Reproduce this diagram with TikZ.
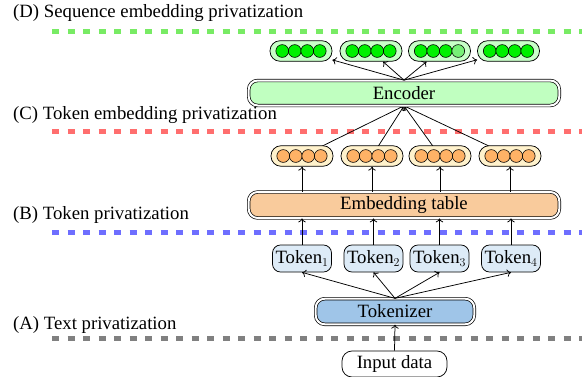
\documentclass[tikz,border=0pt]{standalone}
\usepackage{fontspec}
\setmainfont{Liberation Serif}
\usetikzlibrary{arrows.meta,backgrounds,calc}
\definecolor{encfill}{RGB}{192,255,192}
\definecolor{embfill}{RGB}{249,203,156}
\definecolor{tkzfill}{RGB}{159,197,232}
\definecolor{tokfill}{RGB}{221,235,247}
\definecolor{ovfill}{RGB}{255,242,204}
\definecolor{odot}{RGB}{255,178,102}
\definecolor{gvfill}{RGB}{200,255,200}
\definecolor{gdot}{RGB}{0,240,0}
\definecolor{gdotl}{RGB}{120,240,120}
\definecolor{sepgreen}{RGB}{120,235,100}
\definecolor{sepred}{RGB}{255,110,110}
\definecolor{sepblue}{RGB}{110,110,255}
\definecolor{sepgray}{RGB}{128,128,128}
\begin{document}
\begin{tikzpicture}[x=1pt,y=-1pt,
  font=\fontsize{18.75}{22.5}\selectfont,
  conn/.style={line width=0.75pt, -{To[length=4pt,width=7.5pt]}},
  dbox/.style={draw, double, double distance=2pt, line width=0.7pt, rounded corners=9pt,
    minimum width=310.6pt, minimum height=25pt, inner sep=0pt},
  tok/.style={draw, line width=0.75pt, rounded corners=8pt, fill=tokfill,
    minimum height=27pt, minimum width=59pt, inner sep=1pt},
  vec/.style={draw, line width=0.75pt, rounded corners=10pt,
    minimum width=62pt, minimum height=20.5pt, inner sep=0pt},
  dot/.style={circle, draw, line width=0.6pt, minimum size=12.8pt, inner sep=0pt},
  sep/.style={line width=5pt, dash pattern=on 7pt off 8.5pt},
  lab/.style={anchor=west, inner sep=0pt}]
\useasboundingbox (0,0) rectangle (582,376);

% labels
\node[lab] (labD) at (13,13.5) {(D) Sequence embedding privatization};
\node[lab] (labC) at (13,115.5) {(C) Token embedding privatization};
\node[lab] (labB) at (13,214.5) {(B) Token privatization};
\node[lab] (labA) at (13,324.5) {(A) Text privatization};

% main blocks
\node[dbox, fill=encfill] (enc) at (404,93) {Encoder};
\node[dbox, fill=embfill, minimum height=26pt] (emb) at (404,205) {Embedding table};
\node[dbox, fill=tkzfill, minimum width=158.6pt, minimum height=25.6pt] (tkz) at (395,311.5) {Tokenizer};
\node[draw, line width=0.75pt, rounded corners=10pt, fill=white, minimum width=105pt,
  minimum height=26pt, inner sep=0pt] (inp) at (394.5,364) {Input data};

% tokens
\foreach \i/\xx in {1/302,2/373.5,3/439.5,4/511}
  \node[tok] (t\i) at (\xx,258.5) {Token$_{\i}$};

% orange vectors
\foreach \v/\xx in {1/302,2/372,3/440,4/510}{
  \node[vec, fill=ovfill] (o\v) at (\xx,156) {};
  \foreach \i/\off in {1/-18.75,2/-6.25,3/6.25,4/18.75}
    \node[dot, fill=odot] (o\v c\i) at ($(o\v.center)+(\off,0)$) {};
}

% green vectors
\foreach \v/\xx/\last in {1/301/gdot,2/371/gdot,3/439.5/gdotl,4/508.5/gdot}{
  \node[vec, fill=gvfill] (g\v) at (\xx,51) {};
  \foreach \i/\off/\c in {1/-18.75/gdot,2/-6.25/gdot,3/6.25/gdot,4/18.75/\last}
    \node[dot, fill=\c] (g\v c\i) at ($(g\v.center)+(\off,0)$) {};
}

% connectors
\draw[conn] (inp.north) -- (tkz.south);
\foreach \i in {1,...,4}{
  \draw[conn] (tkz.north) -- (t\i.south);
  \draw[conn] (t\i.north) -- (t\i.north |- emb.south);
  \draw[conn] (o\i.south |- emb.north) -- (o\i.south);
  \draw[conn] (enc.north) -- (g\i);
}

\begin{scope}[on background layer]
  \draw[sep, sepgreen] (52,31) -- (582,31);
  \draw[sep, sepred] (52,131) -- (582,131);
  \draw[sep, sepblue] (52,232) -- (582,232);
  \draw[sep, sepgray] (52,338) -- (582,338);
  \foreach \i in {1,...,4}
    \draw[conn] (o\i.center) -- (enc.south);
\end{scope}
\end{tikzpicture}
\end{document}
